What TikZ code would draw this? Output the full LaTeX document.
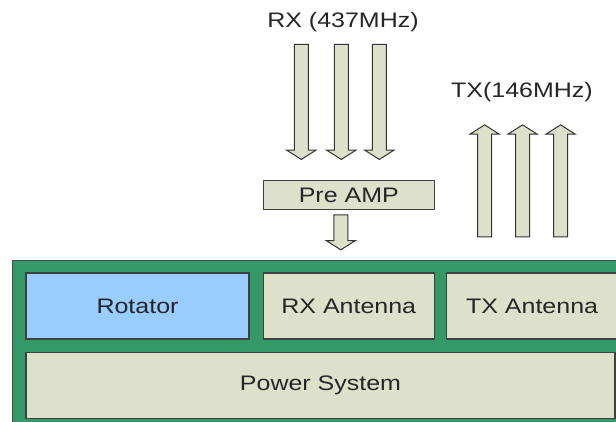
\documentclass[tikz,border=0pt]{standalone}
\usepackage{fontspec}
\setmainfont{Liberation Sans}[FakeStretch=1.19]
\usetikzlibrary{shapes.arrows,positioning}
\definecolor{framegreen}{RGB}{51,153,102}
\definecolor{boxbeige}{RGB}{221,224,202}
\definecolor{rotatorblue}{RGB}{153,204,255}

\begin{document}
\begin{tikzpicture}[x=1pt, y=1pt, font=\fontsize{21}{24}\selectfont, text=black!85,
  unit/.style={rectangle, draw=black!75, line width=1.3pt, fill=boxbeige, minimum height=66pt, inner sep=0pt},
  blockarrow/.style={single arrow, draw=black!80, line width=1pt, fill=boxbeige, inner xsep=0pt, inner ysep=6.5pt, single arrow head extend=7.5pt, single arrow tip angle=115},
  bandtext/.style={inner sep=0pt}]
\useasboundingbox (0,0) rectangle (616,421);

% Ground station frame
\node[draw=black!70, line width=1pt, fill=framegreen, minimum width=608pt, minimum height=164pt, anchor=south west] (frame) at (12,-4) {};

% Units
\node[unit, fill=rotatorblue, minimum width=223pt] (rotator) at (137.5,115) {Rotator};
\node[unit, minimum width=171pt, right=13pt of rotator] (rxant) {RX Antenna};
\node[unit, minimum width=171pt, right=11pt of rxant] (txant) {TX Antenna};
\node[unit, minimum width=589pt, anchor=north west] (power) at ([yshift=-12pt]rotator.south west) {Power System};

% Pre amplifier
\node[unit, minimum width=171pt, minimum height=29pt, above=62pt of rxant] (preamp) {Pre AMP};
\node[blockarrow, rotate=-90, minimum height=35pt, anchor=tail] (ampout) at ([xshift=-8pt, yshift=-4pt]preamp.south) {};

% Downlink
\foreach \dx [count=\i] in {-47.5,-7.5,30.5}
  \node[blockarrow, rotate=-90, minimum height=115pt, anchor=tip] (rxin\i) at ([xshift=\dx pt, yshift=20pt]preamp.north) {};
\node[bandtext] (rxband) at (343,399) {RX (437MHz)};

% Uplink
\foreach \dx [count=\i] in {-47.5,-9.5,28.5}
  \node[blockarrow, rotate=90, minimum height=112pt, anchor=tail] (txout\i) at ([xshift=\dx pt, yshift=35pt]txant.north) {};
\node[bandtext] (txband) at (522,329) {TX(146MHz)};

\end{tikzpicture}
\end{document}
